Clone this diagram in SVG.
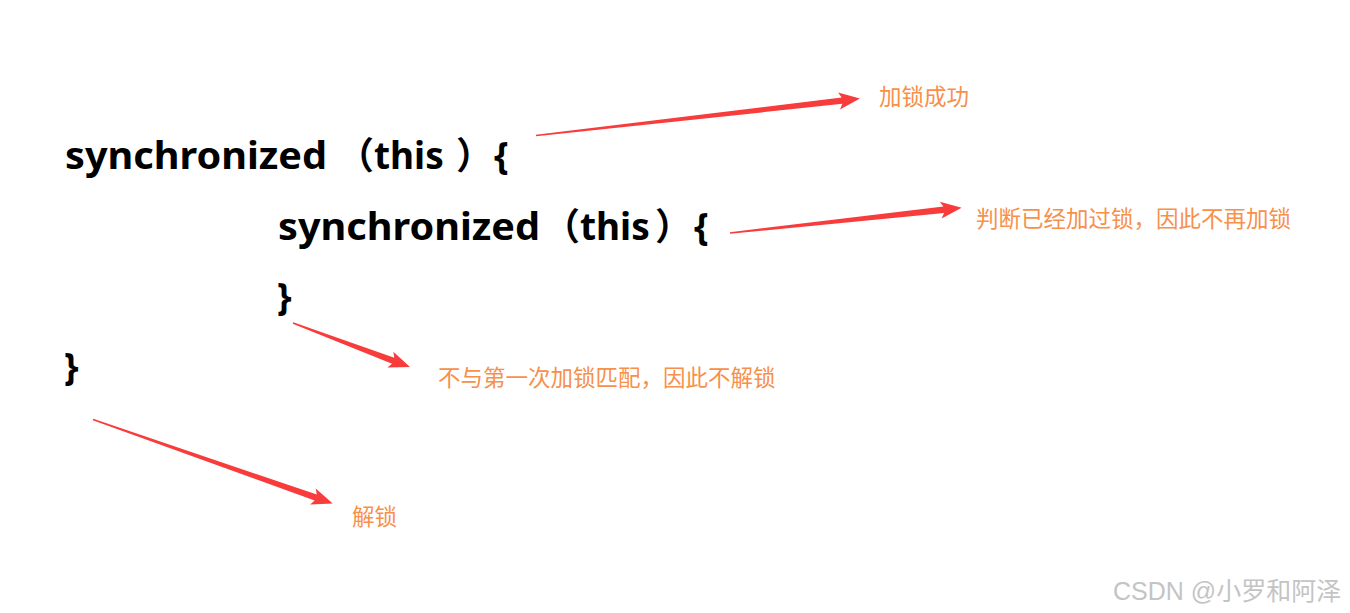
<svg xmlns="http://www.w3.org/2000/svg" width="1350" height="613" viewBox="0 0 1350 613">
<style>
.code{font-family:"Noto Sans","Noto Sans CJK SC",sans-serif;font-weight:bold;font-size:37px;fill:#000}
.lbl{font-family:"Noto Sans CJK SC","Noto Sans",sans-serif;font-size:22.5px;fill:#f7904a}
.arr{fill:#f83c3c}
.wm{font-family:"Liberation Sans","Noto Sans CJK SC",sans-serif;font-size:25px;fill:#c4c4c4}
</style>
<rect width="1350" height="613" fill="#fff"/>
<g id="code-line1">
<text class="code" y="169"><tspan x="65" textLength="262" lengthAdjust="spacingAndGlyphs">synchronized</tspan><tspan x="337">（</tspan><tspan x="374">this</tspan><tspan x="456">）</tspan><tspan x="494">{</tspan></text>
</g>
<g id="code-line2">
<text class="code" y="240"><tspan x="278" textLength="262" lengthAdjust="spacingAndGlyphs">synchronized</tspan><tspan x="543">（</tspan><tspan x="580">this</tspan><tspan x="655">）</tspan><tspan x="694">{</tspan></text>
</g>
<g id="code-line3"><text class="code" x="277" y="310">}</text></g>
<g id="code-line4"><text class="code" x="64" y="380">}</text></g>
<g id="label-lock"><text class="lbl" x="879" y="104.5">加锁成功</text></g>
<g id="label-reentrant"><text class="lbl" x="976" y="227">判断已经加过锁，因此不再加锁</text></g>
<g id="label-nounlock"><text class="lbl" x="438" y="386">不与第一次加锁匹配，因此不解锁</text></g>
<g id="label-unlock"><text class="lbl" x="352" y="525">解锁</text></g>
<g id="connectors">
<path class="arr" transform="translate(536,135.5) rotate(-6.5)" d="M0,-0.8 L308,-3.2 L305,-8.5 L326,0 L305,8.5 L308,3.2 L0,0.8 Z"/>
<path class="arr" transform="translate(730,233) rotate(-6.2)" d="M0,-0.8 L215,-3.2 L212,-8.5 L233,0 L212,8.5 L215,3.2 L0,0.8 Z"/>
<path class="arr" transform="translate(293,323) rotate(20.6)" d="M0,-0.8 L107,-3.2 L104,-8.5 L125,0 L104,8.5 L107,3.2 L0,0.8 Z"/>
<path class="arr" transform="translate(93,419.5) rotate(19.3)" d="M0,-0.8 L236,-3.2 L233,-8.5 L254,0 L233,8.5 L236,3.2 L0,0.8 Z"/>
</g>
<g id="watermark"><text class="wm" x="1113" y="600">CSDN @小罗和阿泽</text></g>
</svg>
